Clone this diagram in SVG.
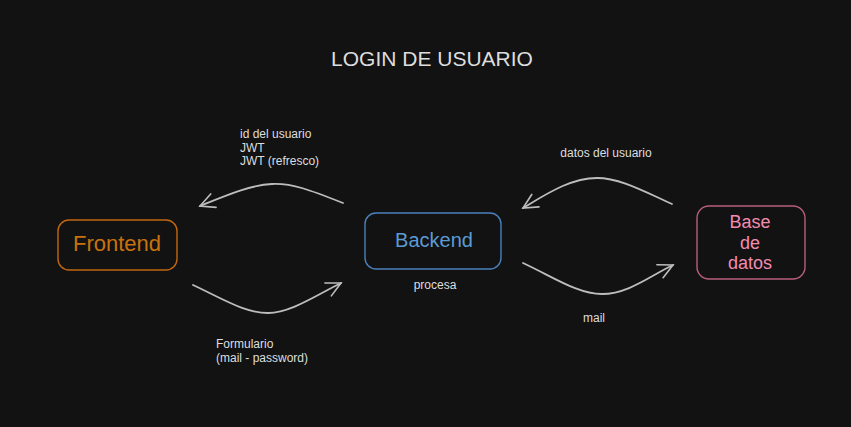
<svg xmlns="http://www.w3.org/2000/svg" width="851" height="427" viewBox="0 0 851 427">
<style>
.t{font-family:"Liberation Sans",Arial,sans-serif;fill:#dedede}
.lbl{font-size:12px}
.c{fill:none;stroke:#bdbdbd;stroke-width:1.8;stroke-linecap:round;marker-end:url(#ah)}
.box{fill:none;stroke-width:1.4}
</style>
<defs>
<marker id="ah" viewBox="0 0 20 20" refX="18" refY="10" markerWidth="18" markerHeight="18" markerUnits="userSpaceOnUse" orient="auto">
<path d="M2,2 L18,10 L2,18" fill="none" stroke="#bdbdbd" stroke-width="1.8" stroke-linecap="round"/>
</marker>
</defs>
<rect width="851" height="427" fill="#121212"/>
<text class="t" x="432" y="66" font-size="21" text-anchor="middle">LOGIN DE USUARIO</text>
<g id="frontend">
<rect class="box" x="58" y="220" width="119" height="50" rx="11" stroke="#c0670f"/>
<text class="t" x="117" y="251" font-size="22" text-anchor="middle" style="fill:#c8720f">Frontend</text>
</g>
<g id="backend">
<rect class="box" x="365" y="213" width="136" height="56" rx="11" stroke="#4a80bb"/>
<text class="t" x="434" y="247" font-size="20" text-anchor="middle" style="fill:#5b9bd5">Backend</text>
</g>
<g id="basedatos">
<rect class="box" x="697" y="206" width="108" height="73" rx="12" stroke="#b85e7b"/>
<text class="t" x="750" y="228" font-size="18" text-anchor="middle" style="fill:#f28cb0">Base</text>
<text class="t" x="750" y="249" font-size="18" text-anchor="middle" style="fill:#f28cb0">de</text>
<text class="t" x="750" y="269" font-size="18" text-anchor="middle" style="fill:#f28cb0">datos</text>
</g>
<g id="connectors">
<path class="c" d="M343,203 C310,190 292,183 272,184 C250,185 225,196 200,206"/>
<path class="c" d="M193,285 C225,300 245,313 268,313 C290,313 315,296 341,283"/>
<path class="c" d="M672,204 C645,192 620,178 597,178 C570,178 545,195 523,208"/>
<path class="c" d="M523,263 C555,278 578,294 602,294 C628,294 650,276 673,265"/>
</g>
<g id="labels">
<text class="t lbl" x="240" y="138">id del usuario</text>
<text class="t lbl" x="240" y="152">JWT</text>
<text class="t lbl" x="240" y="165">JWT (refresco)</text>
<text class="t lbl" x="606" y="157" text-anchor="middle">datos del usuario</text>
<text class="t lbl" x="435" y="289" text-anchor="middle">procesa</text>
<text class="t lbl" x="594" y="322" text-anchor="middle">mail</text>
<text class="t lbl" x="216" y="348">Formulario</text>
<text class="t lbl" x="216" y="362">(mail - password)</text>
</g>
</svg>
